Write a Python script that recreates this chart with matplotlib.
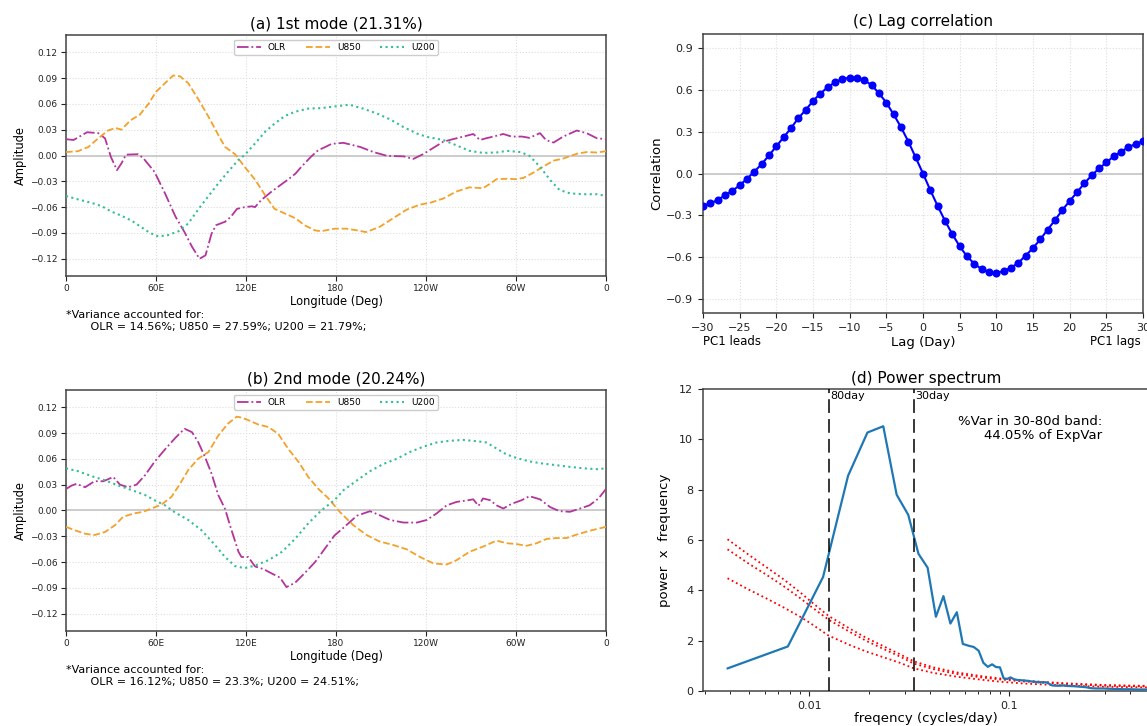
import numpy as np
import matplotlib
matplotlib.use("Agg")
import matplotlib.pyplot as plt

# ---------------- data ----------------
lon_ticks = [0, 60, 120, 180, 240, 300, 360]
lon_labels = ['0', '60E', '120E', '180', '120W', '60W', '0']

# (a) 1st mode
a_olr_lon = [0, 5, 14, 21.5, 26, 30, 34, 37, 40, 48, 51.5, 59, 66, 73, 79, 84, 89, 93, 97, 100,
             106, 110, 114, 119, 124, 126, 130, 137, 144, 148, 153, 157, 163, 168, 173, 177, 185, 196, 205, 214,
             225, 231.5, 238, 245, 251.5, 258, 265, 271.5, 276, 280, 285, 291.5, 297, 304, 309, 316, 320, 325, 331.5, 340.5,
             347, 354, 360]
a_olr = [0.019, 0.018, 0.027, 0.026, 0.020, -0.002, -0.017, -0.009, 0.001, 0.0015,
         -0.003, -0.019, -0.044, -0.071, -0.089, -0.106, -0.120, -0.116, -0.091, -0.081,
         -0.077, -0.071, -0.062, -0.060, -0.059, -0.060, -0.052, -0.042, -0.033, -0.028,
         -0.021, -0.013, -0.002, 0.006, 0.010, 0.0135, 0.0147, 0.010, 0.004, -0.0004,
         -0.001, -0.004, 0.0015, 0.009, 0.016, 0.019, 0.022, 0.025, 0.018, 0.020,
         0.022, 0.025, 0.022, 0.022, 0.0205, 0.026, 0.018, 0.015, 0.022, 0.029,
         0.026, 0.020, 0.019]

a_u850_lon = [0, 8, 15, 21.5, 28, 33, 37, 43, 49, 55, 60, 66, 71.5, 76, 81.5, 88, 95, 101.5, 106, 112.7,
              119, 126, 132.7, 139, 148, 153, 159, 166, 170, 179, 187, 194, 200, 209, 218, 227, 236, 242.7, 251.5, 260,
              269, 278, 283, 287, 294, 300, 305, 311.5, 318, 325, 331.5, 340.5, 347, 354, 360]
a_u850 = [0.004, 0.005, 0.010, 0.020, 0.029, 0.032, 0.030, 0.041, 0.047, 0.060,
          0.074, 0.084, 0.093, 0.092, 0.084, 0.066, 0.045, 0.024, 0.010, 0.0015,
          -0.013, -0.028, -0.046, -0.062, -0.069, -0.073, -0.081, -0.087, -0.088, -0.085,
          -0.085, -0.087, -0.089, -0.083, -0.073, -0.063, -0.057, -0.055, -0.050, -0.042,
          -0.037, -0.038, -0.0325, -0.0275, -0.027, -0.0275, -0.026, -0.020, -0.013, -0.006,
          -0.0035, 0.002, 0.004, 0.0035, 0.005]

a_u200_lon = [0, 8, 17, 24, 30, 37, 44, 50, 56, 61.5, 68, 75, 81.5, 88, 95, 101.5, 108, 115, 119, 126,
              132.7, 139, 146, 153, 161.5, 170, 179, 189, 198, 207, 216, 225, 234, 240.5, 251.5, 260, 269, 278, 287, 294,
              303, 309, 316, 323, 329, 336, 345, 354, 360]
a_u200 = [-0.047, -0.051, -0.055, -0.059, -0.065, -0.070, -0.076, -0.083, -0.090, -0.094,
          -0.0925, -0.088, -0.079, -0.063, -0.047, -0.0325, -0.019, -0.005, 0.0004, 0.014,
          0.0275, 0.037, 0.046, 0.051, 0.0545, 0.055, 0.057, 0.059, 0.0545, 0.049,
          0.042, 0.033, 0.0255, 0.0217, 0.018, 0.012, 0.0054, 0.003, 0.0035, 0.0054,
          0.004, -0.0004, -0.013, -0.029, -0.040, -0.044, -0.045, -0.045, -0.047]

# (b) 2nd mode
b_olr_lon = [0, 3.8, 7, 12.7, 19, 25, 31.5, 36, 41.5, 47, 52.7, 59, 66, 72.7, 79, 84, 88, 92.7, 97, 101.5,
             106, 110, 115, 117, 121.5, 126, 131.5, 137, 142.7, 147, 152.7, 159, 166, 172.7, 179, 185, 194, 202.7, 209, 216,
             225, 234, 240.5, 247, 253.8, 260.4, 267, 271.5, 275, 278, 282.7, 287, 291.5, 297, 303.8, 309, 316, 322.7, 329, 336,
             342.7, 349, 355, 360]
b_olr = [0.025, 0.029, 0.031, 0.027, 0.034, 0.034, 0.039, 0.030, 0.027, 0.030,
         0.041, 0.0565, 0.071, 0.084, 0.095, 0.091, 0.080, 0.062, 0.043, 0.018,
         0.002, -0.021, -0.048, -0.054, -0.054, -0.065, -0.068, -0.073, -0.078, -0.089,
         -0.084, -0.073, -0.060, -0.044, -0.029, -0.020, -0.006, -0.0008, -0.0054, -0.011,
         -0.014, -0.014, -0.011, -0.0035, 0.006, 0.010, 0.0116, 0.013, 0.0054, 0.014,
         0.012, 0.006, 0.0023, 0.0077, 0.012, 0.0166, 0.013, 0.004, -0.0008, -0.0015,
         0.0023, 0.006, 0.014, 0.025]

b_u850_lon = [0, 6, 12.7, 19, 26, 32.7, 38, 45, 51.5, 57, 63.8, 70.4, 76, 81.5, 88, 95, 101.5, 108, 113.8, 117,
              121.5, 128, 135, 141.5, 148, 155, 161.5, 168, 175, 182.7, 191.5, 200.4, 209, 218, 227, 236, 245, 253.8, 260.4, 269,
              278, 287, 293.8, 300.4, 307, 313.8, 320.4, 327, 333.8, 340.4, 349, 360]
b_u850 = [-0.019, -0.023, -0.027, -0.0285, -0.025, -0.017, -0.0074, -0.0035, -0.0015, 0.0023,
          0.007, 0.016, 0.031, 0.047, 0.060, 0.068, 0.087, 0.101, 0.109, 0.108,
          0.105, 0.100, 0.097, 0.089, 0.072, 0.0565, 0.039, 0.0255, 0.014, -0.002,
          -0.017, -0.0285, -0.036, -0.040, -0.045, -0.054, -0.0615, -0.0627, -0.0577, -0.048,
          -0.042, -0.035, -0.038, -0.039, -0.041, -0.038, -0.033, -0.032, -0.032, -0.028,
          -0.0236, -0.019]

b_u200_lon = [0, 8, 17, 26, 35, 44, 52.7, 59, 66, 72.7, 81.5, 90.4, 99.3, 106, 112.7, 119, 126, 135, 144, 152.7,
              161.5, 170.4, 179, 185, 194, 202.7, 211.5, 220.4, 229.3, 238, 247, 256, 265, 273.8, 280.4, 287, 293.8, 300.4, 309, 318,
              327, 336, 345, 354, 360]
b_u200 = [0.049, 0.0457, 0.040, 0.035, 0.029, 0.0236, 0.018, 0.012, 0.006, -0.0023,
          -0.011, -0.023, -0.040, -0.054, -0.0646, -0.067, -0.064, -0.0577, -0.048, -0.033,
          -0.015, 0.0004, 0.012, 0.0236, 0.035, 0.0457, 0.054, 0.060, 0.068, 0.074,
          0.079, 0.081, 0.082, 0.0805, 0.079, 0.072, 0.065, 0.061, 0.057, 0.0545,
          0.0526, 0.0507, 0.049, 0.048, 0.049]

var_a = "*Variance accounted for:\n       OLR = 14.56%; U850 = 27.59%; U200 = 21.79%;"
var_b = "*Variance accounted for:\n       OLR = 16.12%; U850 = 23.3%; U200 = 24.51%;"

# (c) lag correlation
lags = np.arange(-30, 31)
lag_corr = [-0.231, -0.214, -0.19, -0.156, -0.125, -0.084, -0.038, 0.014, 0.067, 0.13,
            0.195, 0.26, 0.325, 0.397, 0.455, 0.52, 0.573, 0.618, 0.654, 0.676,
            0.688, 0.688, 0.669, 0.633, 0.575, 0.508, 0.423, 0.332, 0.229, 0.115,
            0.0,
            -0.12, -0.233, -0.339, -0.435, -0.522, -0.594, -0.647, -0.686, -0.707, -0.712,
            -0.70, -0.676, -0.64, -0.589, -0.534, -0.472, -0.402, -0.334, -0.262, -0.197,
            -0.135, -0.07, -0.014, 0.036, 0.079, 0.123, 0.156, 0.188, 0.212, 0.231]

# (d) power spectrum (frequency index k, frequency = k/256 cycles/day)
spec_k = list(range(1, 41)) + [42, 44, 46, 48, 50, 54, 58, 62, 66, 70, 76, 80, 88, 96, 104, 112, 120, 128]
spec_val = [0.90, 1.77, 4.53, 8.55, 10.27, 10.52, 7.80, 7.00, 5.45, 4.90,
            2.95, 3.77, 2.68, 3.13, 1.87, 1.80, 1.75, 1.60, 1.12, 0.96,
            1.06, 0.95, 0.94, 0.50, 0.48, 0.54, 0.47, 0.44, 0.43, 0.42,
            0.41, 0.40, 0.38, 0.37, 0.36, 0.35, 0.35, 0.34, 0.35, 0.31,
            0.22, 0.21, 0.21, 0.22, 0.20, 0.19, 0.17, 0.15, 0.11, 0.10,
            0.10, 0.09, 0.08, 0.07, 0.07, 0.06, 0.06, 0.06]
red_freq = [0.0039, 0.0050, 0.0061, 0.0074, 0.0090, 0.0101, 0.0125, 0.0160, 0.0194, 0.0235,
            0.0284, 0.0333, 0.0417, 0.0554, 0.0742, 0.0898, 0.117, 0.156, 0.20, 0.30, 0.50]
red_upper = [6.03, 5.40, 4.92, 4.45, 3.92, 3.58, 2.98, 2.47, 2.10, 1.78,
             1.46, 1.18, 0.94, 0.73, 0.58, 0.50, 0.42, 0.35, 0.30, 0.24, 0.20]
red_middle = [5.63, 5.05, 4.62, 4.18, 3.69, 3.38, 2.83, 2.34, 1.98, 1.67,
              1.37, 1.09, 0.87, 0.67, 0.53, 0.46, 0.38, 0.32, 0.27, 0.21, 0.18]
red_lower = [4.48, 4.02, 3.68, 3.33, 2.95, 2.70, 2.20, 1.82, 1.56, 1.34,
             1.12, 0.90, 0.72, 0.56, 0.44, 0.37, 0.30, 0.25, 0.21, 0.17, 0.14]
band_days = [80, 30]
band_text = "%Var in 30-80d band:\n44.05% of ExpVar"

# ---------------- styling ----------------
C_OLR = '#b3359c'
C_U850 = '#f4a12a'
C_U200 = '#34bd98'
SPINE = '#444444'

W, H = 1147, 726
fig = plt.figure(figsize=(W / 100, H / 100), dpi=100)


def px_axes(l, t, r, b):
    return fig.add_axes([l / W, 1 - b / H, (r - l) / W, (b - t) / H])


def style_spines(ax):
    for s in ax.spines.values():
        s.set_color(SPINE)
        s.set_linewidth(1.1)


def eof_panel(ax, title, olr, u850, u200, vtext):
    ax.axhline(0, color='#cccccc', lw=1.4, zorder=1)
    ax.plot(olr[0], olr[1], color=C_OLR, ls='-.', lw=1.3, label='OLR', zorder=3)
    ax.plot(u850[0], u850[1], color=C_U850, ls='--', lw=1.3, label='U850', zorder=3)
    ax.plot(u200[0], u200[1], color=C_U200, ls=':', lw=1.5, label='U200', zorder=3)
    ax.set_xlim(0, 360)
    ax.set_ylim(-0.14, 0.14)
    ax.set_xticks(lon_ticks)
    ax.set_xticklabels(lon_labels)
    ax.set_yticks(np.round(np.arange(-0.12, 0.121, 0.03), 2))
    ax.tick_params(labelsize=6.5, length=3.5, width=0.8, colors='#222222', pad=2.5)
    ax.grid(True, ls=':', color='#dddddd', lw=0.8)
    ax.set_axisbelow(True)
    ax.set_title(title, fontsize=11, pad=5)
    ax.set_xlabel('Longitude (Deg)', fontsize=8.3, labelpad=1)
    ax.set_ylabel('Amplitude', fontsize=8.3, labelpad=2)
    leg = ax.legend(loc='upper center', ncol=3, fontsize=6.5, handlelength=2.6,
                    columnspacing=2.2, borderpad=0.35, framealpha=1)
    leg.get_frame().set_edgecolor('#cccccc')
    style_spines(ax)
    ax.text(0, -0.143, vtext, transform=ax.transAxes, ha='left', va='top',
            fontsize=8, linespacing=1.2)


ax_a = px_axes(66, 35, 606, 276)
eof_panel(ax_a, '(a) 1st mode (21.31%)', (a_olr_lon, a_olr), (a_u850_lon, a_u850),
          (a_u200_lon, a_u200), var_a)

ax_b = px_axes(66, 390, 606, 631)
eof_panel(ax_b, '(b) 2nd mode (20.24%)', (b_olr_lon, b_olr), (b_u850_lon, b_u850),
          (b_u200_lon, b_u200), var_b)

# (c)
ax_c = px_axes(703, 34, 1143, 313)
ax_c.axhline(0, color='#cccccc', lw=1.4, zorder=1)
ax_c.plot(lags, lag_corr, color='blue', marker='o', ms=4.8, lw=1.5, zorder=3)
ax_c.set_xlim(-30, 30)
ax_c.set_ylim(-1, 1)
ax_c.set_xticks(np.arange(-30, 31, 5))
ax_c.set_yticks(np.round(np.arange(-0.9, 0.91, 0.3), 1))
ax_c.tick_params(labelsize=8, length=3.5, width=0.8, colors='#222222')
ax_c.grid(True, ls=':', color='#dddddd', lw=0.8)
ax_c.set_axisbelow(True)
ax_c.set_title('(c) Lag correlation', fontsize=11, pad=6)
ax_c.set_xlabel('Lag (Day)', fontsize=9.5, labelpad=2)
ax_c.set_ylabel('Correlation', fontsize=9.5, labelpad=2)
ax_c.text(0, -0.103, 'PC1 leads', transform=ax_c.transAxes, ha='left', va='center', fontsize=8.5)
ax_c.text(0.995, -0.103, 'PC1 lags', transform=ax_c.transAxes, ha='right', va='center', fontsize=8.5)
style_spines(ax_c)

# (d)
ax_d = px_axes(703, 389, 1149, 691)
freq = np.array(spec_k) / 256.0
ax_d.plot(freq, spec_val, color='#1f77b4', lw=1.6, zorder=3)
for curve in (red_upper, red_middle, red_lower):
    ax_d.plot(red_freq, curve, color='red', ls=':', lw=1.3, zorder=2)
for d in band_days:
    ax_d.axvline(1.0 / d, color='black', ls=(0, (9, 4)), lw=1.1, zorder=4)
    ax_d.text(1.0 / d * 1.02, 11.93, f'{d}day', ha='left', va='top', fontsize=8)
ax_d.set_xscale('log')
ax_d.set_xlim(0.00294, 0.5)
ax_d.set_ylim(0, 12)
ax_d.set_xticks([0.01, 0.1])
ax_d.set_xticklabels(['0.01', '0.1'])
ax_d.set_yticks(np.arange(0, 13, 2))
ax_d.tick_params(labelsize=8, length=3.5, width=0.8, colors='#222222')
ax_d.tick_params(which='minor', length=2, width=0.6)
ax_d.text(0.895, 0.915, band_text, transform=ax_d.transAxes, ha='right', va='top',
          fontsize=9.5, multialignment='right', linespacing=1.1)
ax_d.set_title('(d) Power spectrum', fontsize=11, pad=4)
ax_d.set_xlabel('freqency (cycles/day)', fontsize=9.5, labelpad=1)
ax_d.set_ylabel('power  x  frequency', fontsize=9.5, labelpad=6)
style_spines(ax_d)

fig.savefig('out.png', dpi=100)
